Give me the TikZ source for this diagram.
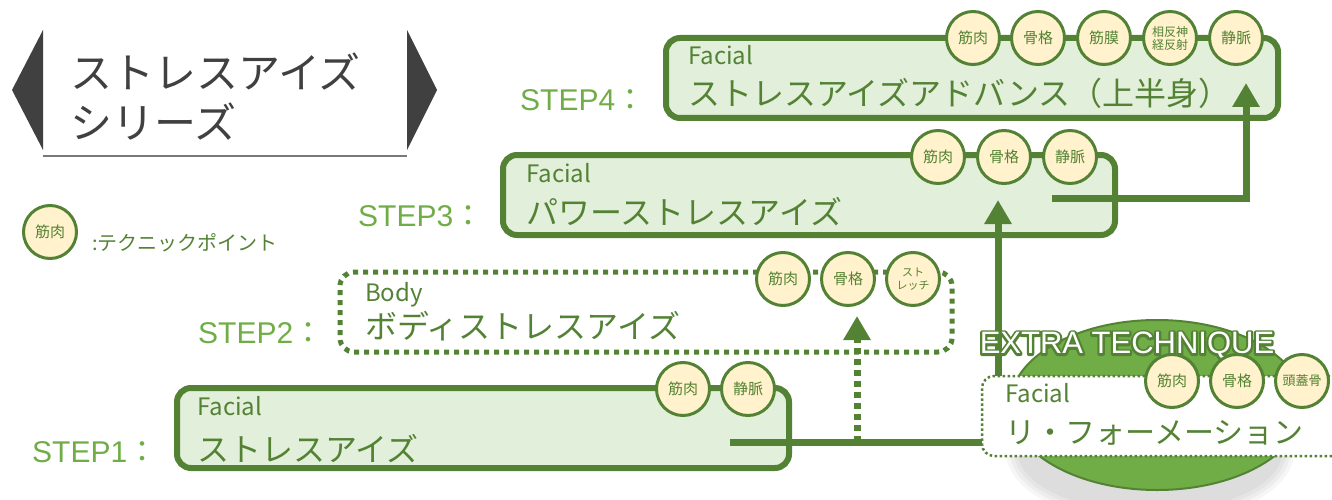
\documentclass[tikz,border=0pt]{standalone}
\usepackage{fontspec}
\setmainfont{Liberation Sans}
\newfontfamily\jpfont{Noto Sans CJK JP}
\usetikzlibrary{arrows.meta,shapes.geometric}
\definecolor{linegreen}{HTML}{548235}
\definecolor{stepgreen}{HTML}{70AD47}
\definecolor{boxfill}{HTML}{E2EFDA}
\definecolor{techfill}{HTML}{FFF2CC}
\definecolor{titlegray}{HTML}{404040}
\newcommand{\outlined}[1]{\rlap{\special{pdf:literal direct 0.329 0.510 0.208 RG 1 Tr 4.5 w 1 j}#1\special{pdf:literal direct 0 Tr}}#1}

\begin{document}
\begin{tikzpicture}[x=1pt,y=-1pt,
    stepbox/.style={draw=linegreen,line width=6pt,fill=boxfill,rounded corners=14pt,minimum width=612,minimum height=80},
    bodybox/.style={stepbox,fill=none,line width=5pt,dash pattern=on 5pt off 5pt},
    extrabox/.style={draw=linegreen,line width=2.5pt,fill=white,dash pattern=on 2.5pt off 2.5pt,rounded corners=12pt,minimum width=440,minimum height=80},
    tech/.style={circle,draw=linegreen,line width=3pt,fill=techfill,minimum size=53,inner sep=0pt,align=center,text=linegreen,font=\jpfont\fontsize{15}{17}\selectfont},
    steplabel/.style={anchor=west,inner sep=0pt,text=stepgreen,font=\fontsize{30}{36}\selectfont},
    boxkind/.style={anchor=base west,inner sep=0pt,text=linegreen,font=\jpfont\fontsize{24}{28}\selectfont},
    boxtitle/.style={anchor=west,inner sep=0pt,text=linegreen,font=\jpfont\fontsize{32}{38}\selectfont},
    extraword/.style={inner sep=0pt,font=\fontsize{31}{36}\selectfont},
    link/.style={draw=linegreen,line width=7pt,-{Triangle[width=26pt,length=24pt]}}]
    \useasboundingbox (0,0) rectangle (1332,500);
    \clip (0,0) rectangle (1332,500);

    % series title
    \fill[titlegray] (43,30) -- (12,90) -- (43,150) -- cycle
        (407,30) -- (437,90) -- (407,150) -- cycle;
    \draw[titlegray!70,line width=1.5pt] (43,156) -- (407,156);
    \node[anchor=west,inner sep=0pt,text=titlegray,font=\jpfont\fontsize{42}{50}\selectfont] (series) at (70,72) {ストレスアイズ};
    \node[anchor=west,inner sep=0pt,text=titlegray,font=\jpfont\fontsize{42}{50}\selectfont] (seriesb) at (70,122) {シリーズ};

    % legend
    \node[tech] (legend) at (50,232) {筋肉};
    \node[anchor=west,inner sep=0pt,text=linegreen,font=\jpfont\fontsize{20}{24}\selectfont] (legendtext) at (92,243) {:テクニックポイント};

    % steps
    \node[stepbox] (s4) at (972,78) {};
    \node[stepbox] (s3) at (809,195) {};
    \node[bodybox] (s2) at (646,312) {};
    \node[stepbox] (s1) at (483,428) {};

    \node[steplabel] (l4) at (520,100) {STEP4{\jpfont ：}};
    \node[steplabel] (l3) at (358,216) {STEP3{\jpfont ：}};
    \node[steplabel] (l2) at (198,333) {STEP2{\jpfont ：}};
    \node[steplabel] (l1) at (32,452) {STEP1{\jpfont ：}};

    \node[boxkind] (s4k) at (688,65) {Facial};
    \node[boxtitle] (s4t) at (688,93) {ストレスアイズアドバンス（上半身）};
    \node[boxkind] (s3k) at (526,182) {Facial};
    \node[boxtitle] (s3t) at (526,212) {パワーストレスアイズ};
    \node[boxkind] (s2k) at (365,301) {Body};
    \node[boxtitle] (s2t) at (365,326) {ボディストレスアイズ};
    \node[boxkind] (s1k) at (197,415) {Facial};
    \node[boxtitle] (s1t) at (197,449) {ストレスアイズ};

    % connectors
    \coordinate (s1out) at (730,442);
    \coordinate (s2in) at (857,316);
    \coordinate (s3in) at (998,200);
    \coordinate (s3out) at (1052,198);
    \coordinate (s4in) at (1246,83);
    \draw[link] (s3out) -| (s4in);
    \draw[link] (s1out) -| (s3in);
    \draw[link,dash pattern=on 6pt off 5pt] (s1out -| s2in) -- (s2in);

    % technique points
    \foreach \x/\t in {973/筋肉,1038/骨格,1104/筋膜,1236/静脈}
        \node[tech] (s4p\x) at (\x,38) {\t};
    \node[tech,font=\jpfont\fontsize{12}{13}\selectfont] (s4p1170) at (1170,38) {相反神\\経反射};
    \foreach \x/\t in {938/筋肉,1004/骨格,1070/静脈}
        \node[tech] (s3p\x) at (\x,157) {\t};
    \foreach \x/\t in {783/筋肉,848/骨格}
        \node[tech] (s2p\x) at (\x,279) {\t};
    \node[tech,font=\jpfont\fontsize{11}{13}\selectfont] (s2p913) at (913,279) {スト\\レッチ};
    \foreach \x/\t in {683/筋肉,748/静脈}
        \node[tech] (s1p\x) at (\x,389) {\t};

    % extra technique
    \foreach \s in {14,10,...,2}
        \fill[black,opacity=0.035] (1150,452) ellipse [x radius=130+\s, y radius=58+\s];
    \node[ellipse,draw=linegreen,line width=2pt,fill=stepgreen,minimum width=294,minimum height=170] (extraback) at (1157,405) {};
    \node[extraword,text=white] (extratitle) at (1127,346) {\outlined{EXTRA TECHNIQUE}};
    \node[extrabox] (ex) at (1202,416) {};
    \node[boxkind] (exk) at (1005,402) {Facial};
    \node[boxtitle,font=\jpfont\fontsize{30}{36}\selectfont] (ext) at (1005,433) {リ・フォーメーション};
    \foreach \x/\t in {1172/筋肉,1237/骨格}
        \node[tech] (exp\x) at (\x,381) {\t};
    \node[tech,font=\jpfont\fontsize{13}{15}\selectfont] (exp1302) at (1302,381) {頭蓋骨};
\end{tikzpicture}
\end{document}
